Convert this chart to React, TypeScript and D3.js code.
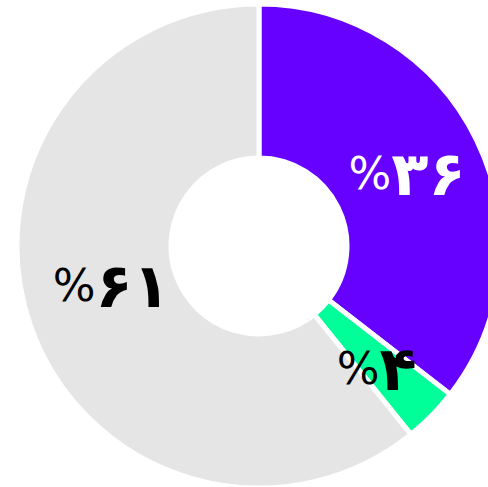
import React from "react";
import * as d3 from "d3";

const categories = ["a", "b", "c"];
const values = [35.5, 3.7, 60.8];
const labels = ["۳۶", "۴", "۶۱"];
const colors = ["#6600ff", "#00ff99", "#e5e5e5"];
const labelColors = ["#ffffff", "#000000", "#000000"];
const labelNudge = [[0, 0], [0, 6], [8, -16]];

export default function App() {
  const W = 488, H = 487;
  const cx = 259, cy = 246;
  const R = 242, r = 88;
  const pie = d3.pie<number>().sort(null).value((d) => d);
  const arcs = pie(values);
  const arc = d3.arc<d3.PieArcDatum<number>>().innerRadius(r).outerRadius(R);
  return (
    <svg width={W} height={H} style={{ position: "absolute", left: 0, top: 0 }}>
      <g transform={`translate(${cx},${cy})`}>
        {arcs.map((a, i) => (
          <path key={categories[i]} d={arc(a) || ""} fill={colors[i]} stroke="#fff" strokeWidth={5} strokeLinejoin="miter" />
        ))}
        {arcs.map((a, i) => {
          const [x, y] = arc.centroid(a);
          return (
            <text
              key={"t" + i}
              x={x + labelNudge[i][0]}
              y={y + labelNudge[i][1]}
              textAnchor="middle"
              dominantBaseline="central"
              fill={labelColors[i]}
              style={{ fontFamily: "'DejaVu Sans', sans-serif", fontSize: 61 }}
            >
              <tspan fontWeight="normal" fontSize={45}>%</tspan>
              <tspan fontWeight="bold">{labels[i]}</tspan>
            </text>
          );
        })}
      </g>
    </svg>
  );
}
